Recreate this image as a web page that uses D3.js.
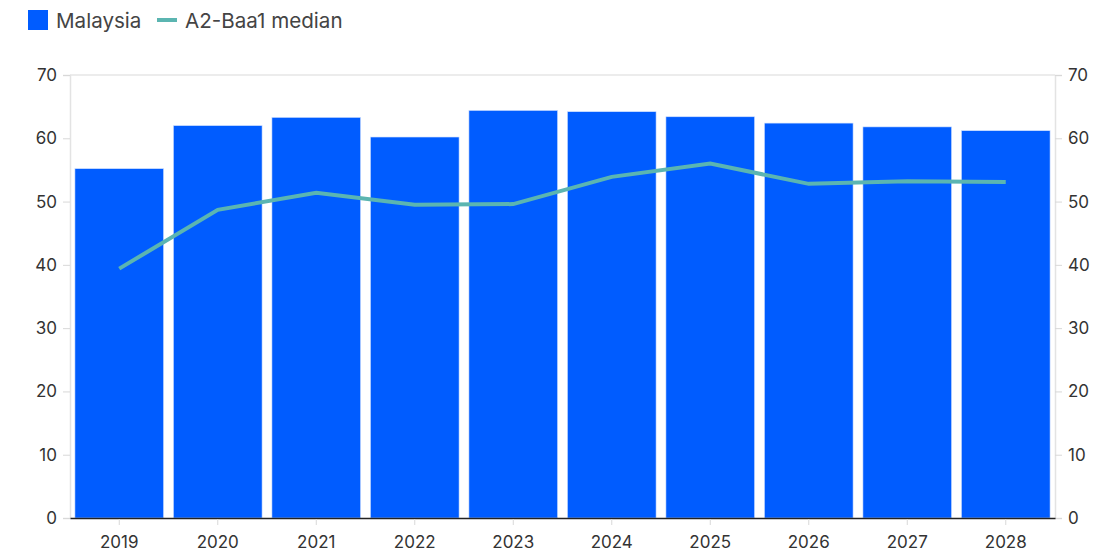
<!DOCTYPE html>
<html>
<head>
    <style>
        body { margin: 0; background: #fff; }
        svg text { font-family: "Inter", "Liberation Sans", sans-serif; fill: #333; }
        .legend text { font-size: 20.6px; fill: #444; }
    </style>
    <script src="https://d3js.org/d3.v7.min.js"></script>
</head>
<body>
    <svg width="1107" height="552"></svg>
    <script>
        var years = ["2019", "2020", "2021", "2022", "2023", "2024", "2025", "2026", "2027", "2028"];
        var malaysia = [55.2, 62.0, 63.3, 60.2, 64.4, 64.2, 63.4, 62.4, 61.8, 61.2];
        var median = [39.4, 48.7, 51.4, 49.5, 49.6, 53.9, 56.0, 52.8, 53.2, 53.1];
        var yTicks = [0, 10, 20, 30, 40, 50, 60, 70];

        var svg = d3.select("svg"),
            margin = {top: 75, right: 52, bottom: 34, left: 70},
            width = +svg.attr("width") - margin.left - margin.right,
            height = +svg.attr("height") - margin.top - margin.bottom;

        var g = svg.append("g")
                   .attr("transform", "translate(" + margin.left + "," + margin.top + ")");

        var x = d3.scaleBand().domain(years).range([0, width]).paddingInner(0.1).paddingOuter(0.05);
        var y = d3.scaleLinear().domain([0, 70]).range([height, 0]);

        // top border line
        g.append("line").attr("x1", 0).attr("x2", width).attr("y1", 0).attr("y2", 0)
         .attr("stroke", "#e6e6e6").attr("stroke-width", 1.5);

        // left axis
        var left = g.append("g").call(d3.axisLeft(y).tickValues(yTicks).tickSize(7).tickPadding(6));
        left.select(".domain").attr("stroke", "#e3e3e3").attr("stroke-width", 1.5);
        left.selectAll(".tick line").attr("stroke", "#d8d8d8");

        // right axis
        var right = g.append("g").attr("transform", "translate(" + width + ",0)")
                     .call(d3.axisRight(y).tickValues(yTicks).tickSize(7).tickPadding(6));
        right.select(".domain").attr("stroke", "#e3e3e3").attr("stroke-width", 1.5);
        right.selectAll(".tick line").attr("stroke", "#d8d8d8");

        g.selectAll("text").attr("fill", "#333").style("font-size", "17px");

        // bars
        g.selectAll(".bar")
         .data(years)
         .enter().append("rect")
         .attr("class", "bar")
         .attr("x", function(d) { return x(d); })
         .attr("width", x.bandwidth())
         .attr("y", function(d, i) { return y(malaysia[i]); })
         .attr("height", function(d, i) { return height - y(malaysia[i]); })
         .attr("fill", "#005cff")
         .attr("stroke", "#cfe0ff")
         .attr("stroke-width", 0.6);

        // bottom axis
        var bottom = g.append("g").attr("transform", "translate(0," + height + ")")
                      .call(d3.axisBottom(x).tickSize(6).tickPadding(12).tickSizeOuter(0));
        bottom.select(".domain").attr("stroke", "#222").attr("stroke-width", 1.5);
        bottom.selectAll(".tick line").attr("stroke", "#d8d8d8").attr("transform", "translate(0,1)");
        bottom.selectAll("text").attr("fill", "#333").style("font-size", "17px");

        // median line
        var line = d3.line()
                     .x(function(d, i) { return x(years[i]) + x.bandwidth() / 2; })
                     .y(function(d) { return y(d); });
        g.append("path")
         .datum(median)
         .attr("d", line)
         .attr("fill", "none")
         .attr("stroke", "#5bb5b1")
         .attr("stroke-width", 4);

        // legend
        var legend = svg.append("g").attr("class", "legend");
        legend.append("rect").attr("x", 28).attr("y", 10).attr("width", 20).attr("height", 20)
              .attr("fill", "#005cff");
        legend.append("text").attr("x", 56).attr("y", 28).text("Malaysia");
        legend.append("line").attr("x1", 157).attr("x2", 177).attr("y1", 20).attr("y2", 20)
              .attr("stroke", "#5bb5b1").attr("stroke-width", 4);
        legend.append("text").attr("x", 185).attr("y", 28).text("A2-Baa1 median");
    </script>
</body>
</html>
